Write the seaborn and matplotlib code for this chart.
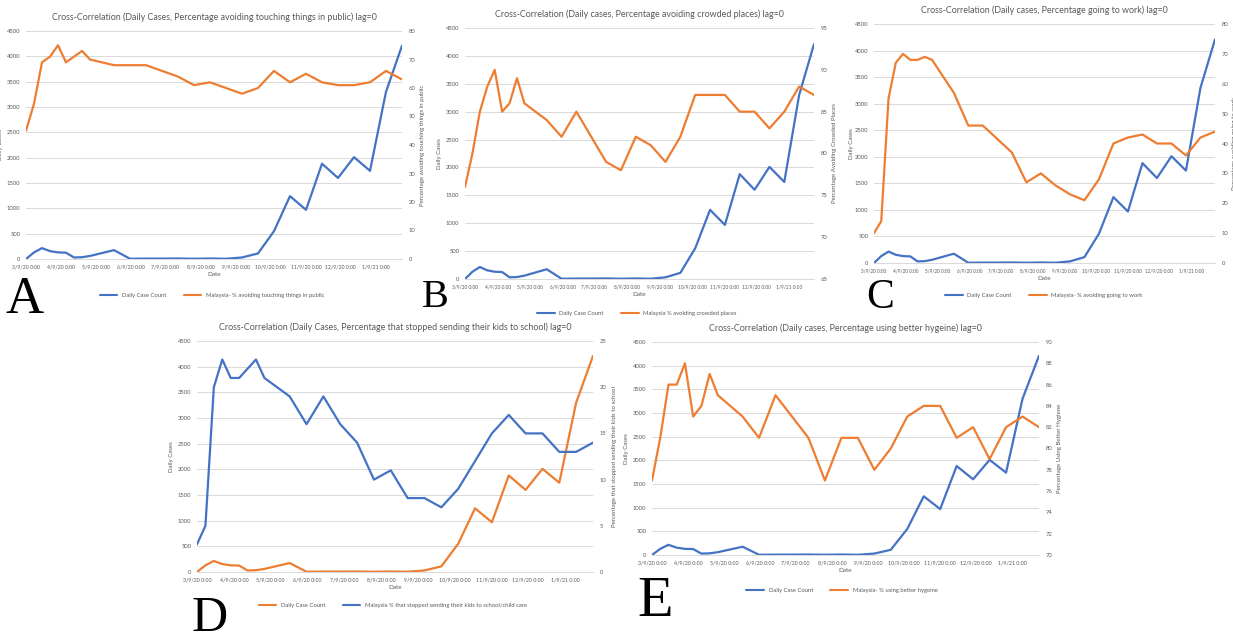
import matplotlib
matplotlib.use("Agg")
import matplotlib.pyplot as plt
from matplotlib.lines import Line2D
import pandas as pd
import seaborn as sns

# readings are weekly at first, then every two weeks (days after 9 Mar 2020)
day_offsets = [0, 7, 14, 21, 28, 35, 42, 49, 56, 77, 91, 105, 119, 133, 147,
               161, 175, 189, 203, 217, 231, 245, 259, 273, 287, 301, 315, 329]

daily_cases = [0, 130, 215, 155, 130, 125, 30, 35, 60, 175, 5, 8, 8, 10, 5,
               10, 5, 30, 110, 550, 1240, 970, 1880, 1600, 2010, 1740, 3300, 4210]

touching = [45, 54.5, 69, 71, 75, 69, 71, 73, 70, 68, 68, 68, 66, 64, 61,
            62, 60, 58, 60, 66, 62, 65, 62, 61, 61, 62, 66, 63]
crowded = [76, 80, 85, 88, 90, 85, 86, 89, 86, 84, 82, 85, 82, 79, 78,
           82, 81, 79, 82, 87, 87, 87, 85, 85, 83, 85, 88, 87]
work = [10, 14, 55, 67, 70, 68, 68, 69, 68, 57, 46, 46, 41.5, 37, 27,
        30, 26, 23, 21, 28, 40, 42, 43, 40, 40, 36, 42, 44]
school = [3, 5, 20, 23, 21, 21, 22, 23, 21, 19, 16, 19, 16, 14, 10,
          11, 8, 8, 7, 9, 12, 15, 17, 15, 15, 13, 13, 14]
hygiene = [77, 81, 86, 86, 88, 83, 84, 87, 85, 83, 81, 85, 83, 81, 77,
           81, 81, 78, 80, 83, 84, 84, 81, 82, 79, 82, 83, 82]

start = pd.Timestamp("2020-03-09")
dates = start + pd.to_timedelta(day_offsets, unit="D")
month_ticks = pd.date_range("2020-03-09", "2021-01-09", freq=pd.DateOffset(months=1))
month_labels = [f"{d.month}/{d.day}/{d.strftime('%y')} 0:00" for d in month_ticks]

BLUE = "#4472C4"
ORANGE = "#ED7D31"
GREY = "#595959"
GRID = "#D9D9D9"

W, H = 1233, 637

sns.set_theme(style="white")
plt.rcParams["font.family"] = ["Lato", "DejaVu Sans"]

fig = plt.figure(figsize=(W / 100, H / 100), dpi=100)


def px_rect(x0, y0, x1, y1):
    return [x0 / W, 1 - y1 / H, (x1 - x0) / W, (y1 - y0) / H]


def draw_panel(box, title, pct, pct_name, pct_label, pct_lim, pct_step,
               case_color, pct_color, legend_xy, letter, letter_xy, letter_size,
               left_lab_x, right_lab_x, xtick_size):
    x0, y0, x1, y1 = box
    ax = fig.add_axes(px_rect(*box))
    sns.lineplot(x=dates, y=daily_cases, ax=ax, color=case_color, lw=1.6)
    ax.set_ylim(0, 4500)
    ax.set_yticks(range(0, 4501, 500))
    ax.set_xlim(dates[0], dates[-1])
    ax.set_xticks(month_ticks)
    ax.set_xticklabels(month_labels)
    ax.grid(axis="y", color=GRID, lw=0.7)
    ax.set_axisbelow(True)
    ax.tick_params(labelsize=4.2, colors=GREY, length=0, pad=4)
    ax.tick_params(axis="x", labelsize=xtick_size, pad=4)
    ax.set_xlabel("Date", fontsize=4.6, color=GREY, labelpad=2)
    ax.set_ylabel("Daily Cases", fontsize=4.4, color=GREY)
    ax.yaxis.set_label_coords((left_lab_x - x0) / (x1 - x0), 0.5)
    for side in ["top", "left", "right"]:
        ax.spines[side].set_visible(False)
    ax.spines["bottom"].set_color(GRID)
    ax.spines["bottom"].set_linewidth(0.7)
    ax.set_title(title, fontsize=6.4, color=GREY, pad=8)

    ax2 = ax.twinx()
    sns.lineplot(x=dates, y=pct, ax=ax2, color=pct_color, lw=1.6)
    ax2.set_ylim(*pct_lim)
    ax2.set_yticks(range(pct_lim[0], pct_lim[1] + 1, pct_step))
    ax2.tick_params(labelsize=4.2, colors=GREY, length=0, pad=5)
    ax2.set_ylabel(pct_name, fontsize=4.4, color=GREY)
    ax2.yaxis.set_label_coords((right_lab_x - x0) / (x1 - x0), 0.5)
    ax2.grid(False)
    for side in ["top", "left", "right", "bottom"]:
        ax2.spines[side].set_visible(False)

    handles = [Line2D([], [], color=case_color, lw=1.5),
               Line2D([], [], color=pct_color, lw=1.5)]
    fig.legend(handles, ["Daily Case Count", pct_label], loc="center",
               bbox_to_anchor=(legend_xy[0] / W, 1 - legend_xy[1] / H),
               ncol=2, frameon=False, fontsize=4.2, handlelength=3,
               columnspacing=3, labelcolor=GREY)

    fig.text(letter_xy[0] / W, 1 - letter_xy[1] / H, letter,
             family=["Liberation Serif", "DejaVu Serif"], fontsize=letter_size,
             ha="left", va="baseline", color="black")


draw_panel((26, 31, 402, 259),
           "Cross-Correlation (Daily Cases, Percentage avoiding touching things in public) lag=0",
           touching, "Percentage avoiding touching things in public",
           "Malaysia- % avoiding touching things in public", (0, 80), 10,
           BLUE, ORANGE, (212, 295), "A", (6, 313), 38, 3, 420, 3.7)

draw_panel((465, 28, 814, 279),
           "Cross-Correlation (Daily cases, Percentage avoiding crowded places) lag=0",
           crowded, "Percentage Avoiding Crowded Places",
           "Malaysia % avoiding crowded places", (65, 95), 5,
           BLUE, ORANGE, (637, 313), "B", (422, 307), 29, 442, 832, 3.4)

draw_panel((874, 24, 1215, 263),
           "Cross-Correlation (Daily cases, Percentage going to work) lag=0",
           work, "Percentage avoiding going to work",
           "Malaysia- % avoiding going to work", (0, 80), 10,
           BLUE, ORANGE, (1044, 295), "C", (866, 308), 30, 854, 1232, 3.3)

draw_panel((197, 341, 593, 572),
           "Cross-Correlation (Daily Cases, Percentage that stopped sending their kids to school) lag=0",
           school, "Percentage that stopped sending their kids to school",
           "Malaysia % that stopped sending their kids to school/child care", (0, 25), 5,
           ORANGE, BLUE, (393, 605), "D", (192, 631), 36, 174, 612, 3.8)

draw_panel((652, 342, 1039, 555),
           "Cross-Correlation (Daily cases, Percentage using better hygeine) lag=0",
           hygiene, "Percentage Using Better Hygiene",
           "Malaysia- % using better hygeine", (70, 90), 2,
           BLUE, ORANGE, (842, 590), "E", (637, 616), 42, 629, 1057, 3.8)

fig.savefig("out.png", dpi=100)
